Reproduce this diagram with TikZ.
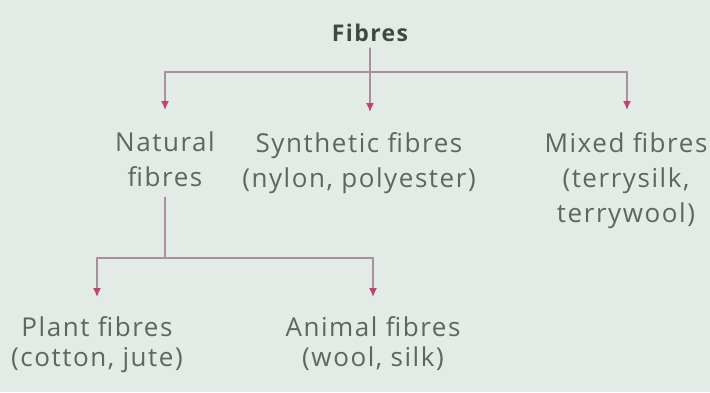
\documentclass[tikz,border=0pt]{standalone}
\usepackage{fontspec}
\setmainfont{Open Sans}[LetterSpace=6]
\usetikzlibrary{arrows.meta,positioning}
\definecolor{paper}{HTML}{E3EBE7}
\definecolor{inkgrey}{HTML}{5F6561}
\definecolor{linemauve}{HTML}{A98F9C}
\definecolor{tipred}{HTML}{C2436F}

\begin{document}
\begin{tikzpicture}[x=1pt,y=-1pt,font=\fontsize{26}{35}\selectfont,line cap=round,
label/.style={text=inkgrey,align=center,inner sep=0pt,anchor=north},
branch/.style={linemauve,line width=1.4pt},
down/.style={branch,-{Latex[length=9pt,width=8pt,color=tipred]}}]
\useasboundingbox (0,0) rectangle (710,392);
\fill[paper] (0,0) rectangle (710,392);
% top level
\node[label,font=\bfseries\fontsize{23}{26}\selectfont,text=inkgrey!70!black] (fibres) at (370,24) {Fibres};
\node[label] (natural) at (165,132) {Natural\\fibres};
\node[label] (synthetic) at (359,132) {Synthetic fibres\\(nylon, polyester)};
\node[label] (mixed) at (626,132) {Mixed fibres\\(terrysilk,\\terrywool)};
% second level
\node[label,font=\fontsize{26}{30}\selectfont] (plant) at (97,316) {Plant fibres\\(cotton, jute)};
\node[label,font=\fontsize{26}{30}\selectfont] (animal) at (373,316) {Animal fibres\\(wool, silk)};
% bus points and arrow ends
\coordinate (busL) at (165,72);
\coordinate (busR) at (627,72);
\coordinate (tipN) at (165,110);
\coordinate (tipS) at (370,112);
\coordinate (tipM) at (627,110);
\coordinate (lowL) at (97,258);
\coordinate (lowR) at (373,258);
\coordinate (lowM) at (165,258);
\coordinate (tipP) at (97,297);
\coordinate (tipA) at (373,297);
\draw[branch] (busL) -- (busR);
\draw[down,shorten <=6pt] (fibres.south) -- (tipS);
\draw[down] (busL) -- (tipN);
\draw[down] (busR) -- (tipM);
\draw[branch,shorten <=10pt] (natural.south) -- (lowM);
\draw[branch] (lowL) -- (lowR);
\draw[down] (lowL) -- (tipP);
\draw[down] (lowR) -- (tipA);
\end{tikzpicture}
\end{document}
